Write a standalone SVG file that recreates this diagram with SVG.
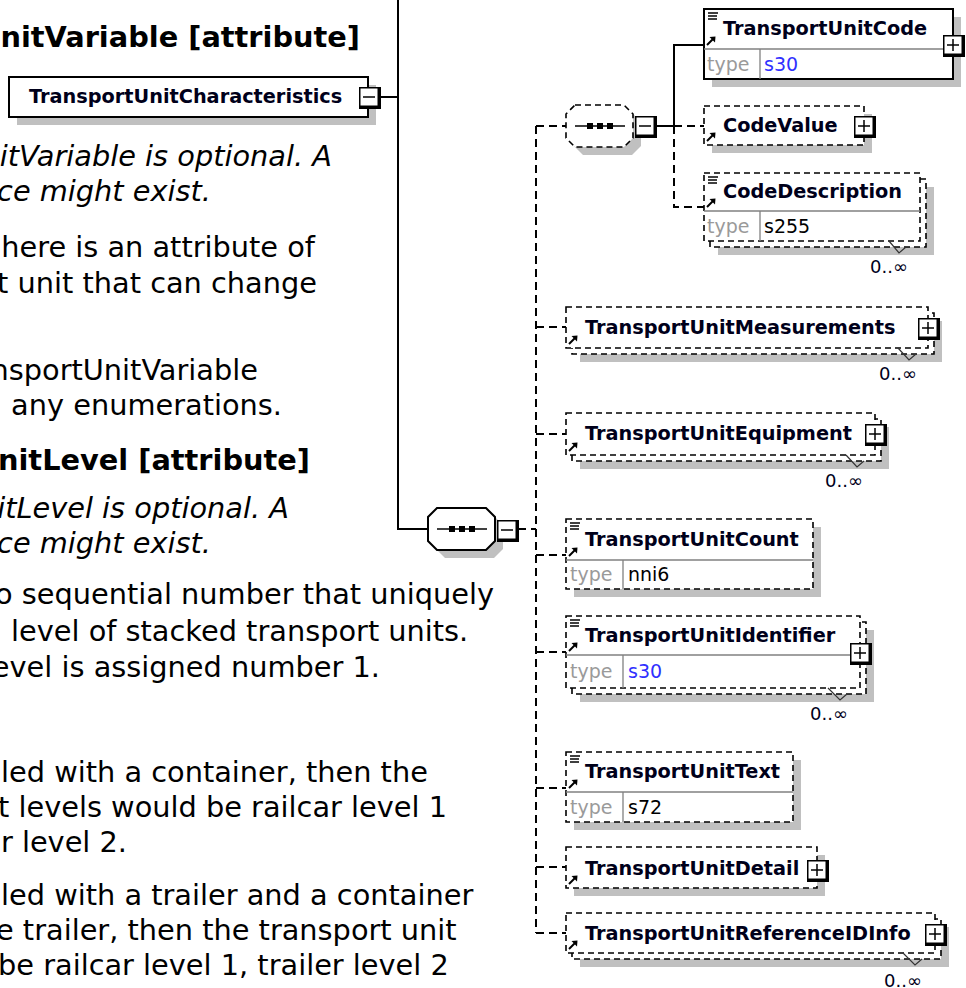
<svg xmlns="http://www.w3.org/2000/svg" width="966" height="988" viewBox="0 0 966 988">
<style>
.bt{font-family:"DejaVu Sans",Verdana,sans-serif;font-size:28.8px;fill:#000}
.it{font-style:italic}
.hd{font-weight:bold}
.nm{font-family:"DejaVu Sans",Tahoma,sans-serif;font-weight:bold;font-size:19.3px;fill:#00001a}
.ty{font-family:"DejaVu Sans",Tahoma,sans-serif;font-size:19px;fill:#9a9a9a}
.tv{font-family:"DejaVu Sans",Tahoma,sans-serif;font-size:19px;fill:#000}
.blue{fill:#3030ff}
.occ{font-family:"DejaVu Sans",Tahoma,sans-serif;font-size:18px;fill:#00001a}
.sh{fill:#c0c0c0}
.box{fill:#fff;stroke:#000;stroke-width:2}
.dbox{fill:#fff;stroke:#000;stroke-width:1.6;stroke-dasharray:6 4}
.dv{stroke:#808080;stroke-width:1.3}
.ln{stroke:#000;stroke-width:2;fill:none}
.dl{stroke:#000;stroke-width:2;fill:none;stroke-dasharray:8 5}
.ic{stroke:#000;stroke-width:1.5;fill:none}
.tick{stroke:#333;stroke-width:1.2;fill:none}
</style>
<defs>
<g id="btnBase">
<rect x="-11" y="-11" width="22" height="22" fill="#000"/>
<rect x="-10.25" y="-10.25" width="18.5" height="18.5" fill="#fff" stroke="#000" stroke-width="1.5"/>
<line x1="-7" y1="-1" x2="5" y2="-1" stroke="#000" stroke-width="1.5"/>
</g>
<g id="minus"><use href="#btnBase"/></g>
<g id="plus"><use href="#btnBase"/><line x1="-1" y1="-7" x2="-1" y2="5" stroke="#000" stroke-width="1.5"/></g>
<g id="arrow">
<line x1="0" y1="0" x2="6" y2="-6" stroke="#000" stroke-width="2"/>
<polygon points="8.5,-8.5 2.5,-8 8,-2.5" fill="#000"/>
</g>
<g id="lines">
<line x1="0" y1="0" x2="10" y2="0" class="ic"/>
<line x1="0" y1="3" x2="9" y2="3" class="ic"/>
<line x1="0" y1="6" x2="9" y2="6" class="ic"/>
</g>
<path id="oct" d="M9,0 H58 L67,9 V33 L58,42 H9 L0,33 V9 Z"/>
<g id="seqsym">
<line x1="9" y1="21" x2="59" y2="21" stroke="#000" stroke-width="1.5"/>
<rect x="21" y="18" width="6" height="6" fill="#000"/>
<rect x="31" y="18" width="6" height="6" fill="#000"/>
<rect x="41" y="18" width="6" height="6" fill="#000"/>
</g>
</defs>

<g id="description">
<text class="bt hd" x="360" y="47" text-anchor="end">nitVariable [attribute]</text>
<text class="bt it" x="332" y="166" text-anchor="end">itVariable is optional. A</text>
<text class="bt it" x="211" y="201" text-anchor="end">ce might exist.</text>
<text class="bt" x="315" y="257" text-anchor="end">here is an attribute of</text>
<text class="bt" x="317" y="293" text-anchor="end">t unit that can change</text>
<text class="bt" x="258" y="380" text-anchor="end">nsportUnitVariable</text>
<text class="bt" x="282" y="415" text-anchor="end">any enumerations.</text>
<text class="bt hd" x="310" y="470" text-anchor="end">nitLevel [attribute]</text>
<text class="bt it" x="289" y="518" text-anchor="end">itLevel is optional. A</text>
<text class="bt it" x="211" y="553" text-anchor="end">ce might exist.</text>
<text class="bt" x="-5" y="604">o sequential number that uniquely</text>
<text class="bt" x="11" y="641">level of stacked transport units.</text>
<text class="bt" x="380" y="677" text-anchor="end">evel is assigned number 1.</text>
<text class="bt" x="1" y="782">led with a container, then the</text>
<text class="bt" x="-2" y="817">t levels would be railcar level 1</text>
<text class="bt" x="127" y="852" text-anchor="end">r level 2.</text>
<text class="bt" x="1" y="905">led with a trailer and a container</text>
<text class="bt" x="-4" y="940">e trailer, then the transport unit</text>
<text class="bt" x="-2" y="975">be railcar level 1, trailer level 2</text>
</g>

<g id="connectors">
<polyline class="ln" points="380,97 398,97"/>
<polyline class="ln" points="398,0 398,529 428,529"/>
<line class="dl" x1="518" y1="529" x2="536" y2="529"/>
<line class="dl" x1="536" y1="126" x2="536" y2="933"/>
<line class="dl" x1="536" y1="126" x2="566" y2="126"/>
<line class="dl" x1="536" y1="327" x2="566" y2="327"/>
<line class="dl" x1="536" y1="434" x2="566" y2="434"/>
<line class="dl" x1="536" y1="555" x2="566" y2="555"/>
<line class="dl" x1="536" y1="652" x2="566" y2="652"/>
<line class="dl" x1="536" y1="788" x2="566" y2="788"/>
<line class="dl" x1="536" y1="867" x2="566" y2="867"/>
<line class="dl" x1="536" y1="933" x2="566" y2="933"/>
<polyline class="ln" points="657,126 674,126 674,45 704,45"/>
<line class="dl" x1="674" y1="126" x2="704" y2="126"/>
<polyline class="dl" points="674,126 674,207 704,207"/>
</g>

<g id="TransportUnitCharacteristics">
<rect class="sh" x="17" y="85" width="359" height="40"/>
<rect class="box" x="9" y="77" width="359" height="40"/>
<text class="nm" x="29" y="103">TransportUnitCharacteristics</text>
<use href="#minus" x="370" y="98"/>
</g>

<g id="sequence_main">
<use href="#oct" x="436" y="516" class="sh"/>
<use href="#oct" x="428" y="508" fill="#fff" stroke="#000" stroke-width="2"/>
<use href="#seqsym" x="428" y="508"/>
<use href="#minus" x="508" y="531"/>
</g>

<g id="sequence_code">
<use href="#oct" x="574" y="113" class="sh"/>
<use href="#oct" x="566" y="105" fill="#fff" stroke="#000" stroke-width="1.6" stroke-dasharray="6 4"/>
<use href="#seqsym" x="566" y="105"/>
<use href="#minus" x="646" y="127"/>
</g>

<g id="TransportUnitCode">
<rect class="sh" x="712" y="17" width="249" height="70"/>
<rect class="box" x="704" y="9" width="249" height="70"/>
<line class="dv" x1="704" y1="49" x2="953" y2="49"/>
<line class="dv" x1="760" y1="49" x2="760" y2="79"/>
<use href="#lines" x="708" y="13"/>
<use href="#arrow" x="707" y="45"/>
<text class="nm" x="723" y="35">TransportUnitCode</text>
<text class="ty" x="707" y="71">type</text>
<text class="tv blue" x="764" y="71">s30</text>
<use href="#plus" x="954" y="46"/>
</g>

<g id="CodeValue">
<rect class="sh" x="712" y="114" width="160" height="39"/>
<rect class="dbox" x="704" y="106" width="160" height="39"/>
<use href="#arrow" x="707" y="141"/>
<text class="nm" x="723" y="132">CodeValue</text>
<use href="#plus" x="865" y="127"/>
</g>

<g id="CodeDescription">
<rect class="sh" x="718" y="187" width="216" height="68"/>
<rect class="dbox" x="710" y="179" width="216" height="68"/>
<rect class="dbox" x="704" y="173" width="216" height="68"/>
<line class="dv" x1="704" y1="211" x2="920" y2="211"/>
<line class="dv" x1="760" y1="211" x2="760" y2="241"/>
<use href="#lines" x="708" y="177"/>
<use href="#arrow" x="707" y="207"/>
<text class="nm" x="723" y="198">CodeDescription</text>
<text class="ty" x="707" y="233">type</text>
<text class="tv" x="764" y="233">s255</text>
<polyline class="tick" points="889,241 899,253 906,247"/>
<text class="occ" x="908" y="273" text-anchor="end">0..∞</text>
</g>

<g id="TransportUnitMeasurements">
<rect class="sh" x="580" y="321" width="362" height="41"/>
<rect class="dbox" x="572" y="313" width="362" height="41"/>
<rect class="dbox" x="566" y="307" width="362" height="41"/>
<use href="#arrow" x="569" y="344"/>
<text class="nm" x="585" y="334">TransportUnitMeasurements</text>
<use href="#plus" x="929" y="329"/>
<polyline class="tick" points="898,348 909,360 916,354"/>
<text class="occ" x="917" y="380" text-anchor="end">0..∞</text>
</g>

<g id="TransportUnitEquipment">
<rect class="sh" x="580" y="427" width="309" height="42"/>
<rect class="dbox" x="572" y="419" width="309" height="42"/>
<rect class="dbox" x="566" y="413" width="309" height="42"/>
<use href="#arrow" x="569" y="451"/>
<text class="nm" x="585" y="440">TransportUnitEquipment</text>
<use href="#plus" x="876" y="435"/>
<polyline class="tick" points="846,455 857,467 864,461"/>
<text class="occ" x="863" y="487" text-anchor="end">0..∞</text>
</g>

<g id="TransportUnitCount">
<rect class="sh" x="574" y="527" width="247" height="70"/>
<rect class="dbox" x="566" y="519" width="247" height="70"/>
<line class="dv" x1="566" y1="560" x2="813" y2="560"/>
<line class="dv" x1="623" y1="560" x2="623" y2="589"/>
<use href="#lines" x="570" y="523"/>
<use href="#arrow" x="569" y="556"/>
<text class="nm" x="585" y="546">TransportUnitCount</text>
<text class="ty" x="570" y="581">type</text>
<text class="tv" x="628" y="581">nni6</text>
</g>

<g id="TransportUnitIdentifier">
<rect class="sh" x="580" y="630" width="294" height="72"/>
<rect class="dbox" x="572" y="622" width="294" height="72"/>
<rect class="dbox" x="566" y="616" width="294" height="72"/>
<line class="dv" x1="566" y1="655" x2="860" y2="655"/>
<line class="dv" x1="623" y1="655" x2="623" y2="688"/>
<use href="#lines" x="570" y="620"/>
<use href="#arrow" x="569" y="651"/>
<text class="nm" x="585" y="642">TransportUnitIdentifier</text>
<text class="ty" x="570" y="678">type</text>
<text class="tv blue" x="628" y="678">s30</text>
<use href="#plus" x="861" y="654"/>
<polyline class="tick" points="828,688 840,700 847,694"/>
<text class="occ" x="848" y="720" text-anchor="end">0..∞</text>
</g>

<g id="TransportUnitText">
<rect class="sh" x="574" y="760" width="227" height="70"/>
<rect class="dbox" x="566" y="752" width="227" height="70"/>
<line class="dv" x1="566" y1="792" x2="793" y2="792"/>
<line class="dv" x1="623" y1="792" x2="623" y2="822"/>
<use href="#lines" x="570" y="756"/>
<use href="#arrow" x="569" y="788"/>
<text class="nm" x="585" y="778">TransportUnitText</text>
<text class="ty" x="570" y="814">type</text>
<text class="tv" x="628" y="814">s72</text>
</g>

<g id="TransportUnitDetail">
<rect class="sh" x="574" y="855" width="251" height="41"/>
<rect class="dbox" x="566" y="847" width="251" height="41"/>
<use href="#arrow" x="569" y="884"/>
<text class="nm" x="585" y="875">TransportUnitDetail</text>
<use href="#plus" x="818" y="871"/>
</g>

<g id="TransportUnitReferenceIDInfo">
<rect class="sh" x="580" y="927" width="369" height="40"/>
<rect class="dbox" x="572" y="919" width="369" height="40"/>
<rect class="dbox" x="566" y="913" width="369" height="40"/>
<use href="#arrow" x="569" y="949"/>
<text class="nm" x="585" y="940">TransportUnitReferenceIDInfo</text>
<use href="#plus" x="936" y="935"/>
<polyline class="tick" points="903,953 915,965 922,959"/>
<text class="occ" x="922" y="987" text-anchor="end">0..∞</text>
</g>
</svg>
